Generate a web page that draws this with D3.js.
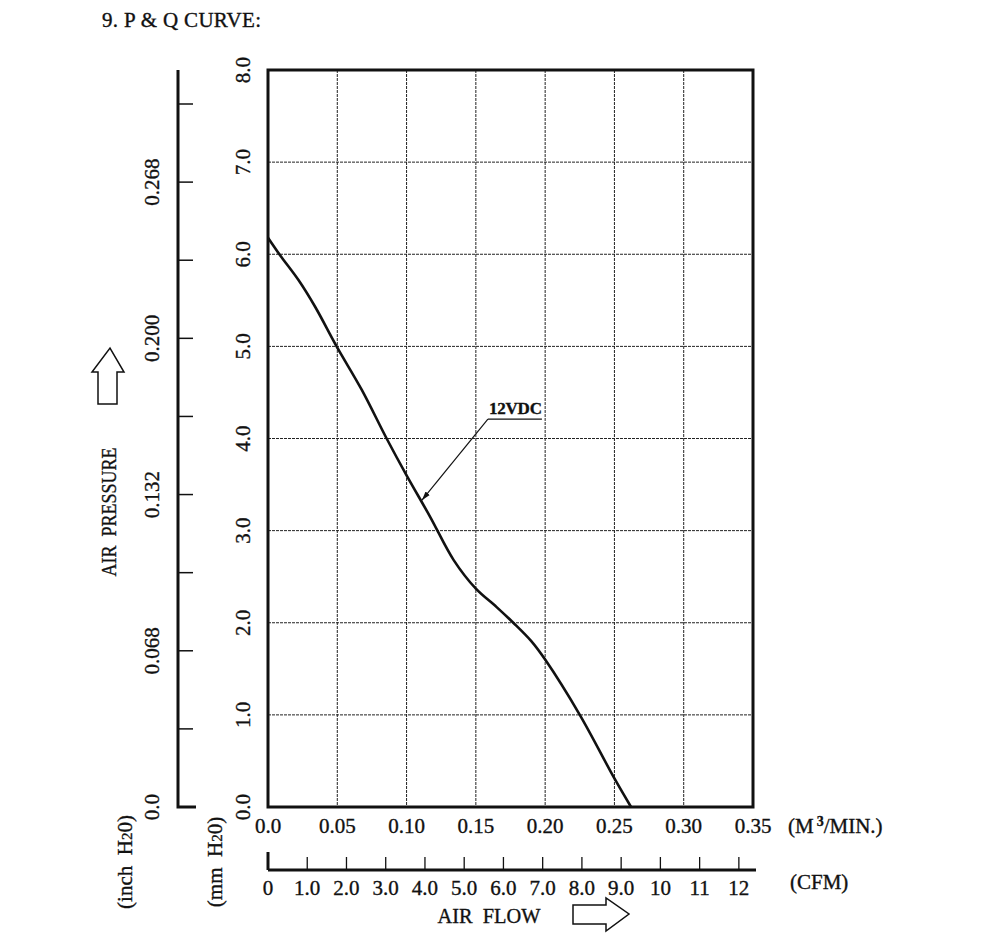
<!DOCTYPE html>
<html><head>
<meta charset="utf-8">
<script src="https://d3js.org/d3.v7.min.js"></script>
<style>
  body { margin: 0; background: #fff; }
  svg text { font-family: "Liberation Serif", "DejaVu Serif", serif; fill: #111; stroke: #111; stroke-width: 0.35; white-space: pre; }
  .grid line { stroke: #222; stroke-width: 1; stroke-dasharray: 3,1; }
</style>
</head>
<body>
<svg id="chart" width="1000" height="941"></svg>
<script>

// ---- data ----
// air flow in M3/MIN, pressure in mm H2O
const flow     = [0, 0.0087, 0.022, 0.034, 0.0495, 0.0676, 0.0856, 0.100, 0.117, 0.134, 0.150, 0.165, 0.177, 0.190, 0.200, 0.225, 0.250, 0.262];
const pressure = [6.18, 5.99, 5.72, 5.43, 5.00, 4.53, 4.00, 3.60, 3.15, 2.68, 2.37, 2.17, 2.00, 1.80, 1.60, 1.00, 0.31, 0.0];

const flowTicks = [0.0, 0.05, 0.10, 0.15, 0.20, 0.25, 0.30, 0.35];
const flowLabels = ["0.0", "0.05", "0.10", "0.15", "0.20", "0.25", "0.30", "0.35"];
const mmTicks = [0, 1, 2, 3, 4, 5, 6, 7, 8];
const mmLabels = ["0.0", "1.0", "2.0", "3.0", "4.0", "5.0", "6.0", "7.0", "8.0"];
const cfmTicks = [0, 1, 2, 3, 4, 5, 6, 7, 8, 9, 10, 11, 12];
const cfmLabels = ["0", "1.0", "2.0", "3.0", "4.0", "5.0", "6.0", "7.0", "8.0", "9.0", "10", "11", "12"];
// inch H2O axis: evenly spaced ticks, only every other one labelled
const inchLabels = ["0.0", "", "0.068", "", "0.132", "", "0.200", "", "0.268", ""];

const curveLabel = "12VDC";
const labelAt = [0.1587, 4.21];   // where the label's underline starts
const arrowTip = [0.1111, 3.33];  // where the leader arrow touches the curve

const M3_PER_CFM = 0.0283168;

// ---- layout ----
const svg = d3.select("#chart");
const plot = {left: 268, right: 753, top: 70, bottom: 807};
const FS = 21;

const x = d3.scaleLinear().domain([0, 0.35]).range([plot.left, plot.right]);
const y = d3.scaleLinear().domain([0, 8]).range([plot.bottom, plot.top]);
const cfm = d3.scaleLinear().domain([0, 12]).range([x(0), x(12 * M3_PER_CFM)]);
const inch = d3.scaleLinear().domain([0, 9]).range([plot.bottom, 104]);

svg.append("marker").attr("id", "arrowhead")
  .attr("viewBox", "0 0 10 10").attr("refX", 10).attr("refY", 5)
  .attr("markerWidth", 9).attr("markerHeight", 9).attr("orient", "auto")
  .attr("markerUnits", "userSpaceOnUse")
  .append("path").attr("d", "M0,2 L10,5 L0,8 Z").attr("fill", "#111");

// title
svg.append("text").attr("x", 102).attr("y", 27).attr("font-size", FS)
  .attr("textLength", 159).text("9. P & Q CURVE:");

// gridlines
const grid = svg.append("g").attr("class", "grid");
grid.selectAll("line.v").data(flowTicks.slice(1, -1)).join("line")
  .attr("x1", d => x(d)).attr("x2", d => x(d))
  .attr("y1", plot.top).attr("y2", plot.bottom);
grid.selectAll("line.h").data(mmTicks.slice(1, -1)).join("line")
  .attr("x1", plot.left).attr("x2", plot.right)
  .attr("y1", d => y(d)).attr("y2", d => y(d));

// frame
svg.append("rect")
  .attr("x", plot.left).attr("y", plot.top)
  .attr("width", plot.right - plot.left).attr("height", plot.bottom - plot.top)
  .attr("fill", "none").attr("stroke", "#111").attr("stroke-width", 3);

// the curve
const pts = flow.map((f, i) => [f, pressure[i]]);
const line = d3.line().x(d => x(d[0])).y(d => y(d[1])).curve(d3.curveCatmullRom.alpha(0.5));
svg.append("path").datum(pts).attr("d", line)
  .attr("fill", "none").attr("stroke", "#111").attr("stroke-width", 2.6);

// label + leader
svg.append("text").attr("x", x(labelAt[0]) + 1).attr("y", y(labelAt[1]) - 5)
  .attr("font-size", 17).attr("font-weight", "bold").attr("textLength", 53).text(curveLabel);
svg.append("line")
  .attr("x1", x(labelAt[0])).attr("y1", y(labelAt[1]))
  .attr("x2", x(labelAt[0]) + 54).attr("y2", y(labelAt[1]))
  .attr("stroke", "#111").attr("stroke-width", 1.3);
svg.append("line")
  .attr("x1", x(labelAt[0])).attr("y1", y(labelAt[1]))
  .attr("x2", x(arrowTip[0])).attr("y2", y(arrowTip[1]))
  .attr("stroke", "#111").attr("stroke-width", 1.2).attr("marker-end", "url(#arrowhead)");

// mm H2O labels (rotated)
svg.selectAll("text.mm").data(mmTicks).join("text")
  .attr("font-size", FS).attr("text-anchor", "middle")
  .attr("transform", d => `translate(250,${y(d)}) rotate(-90)`)
  .text((d, i) => mmLabels[i]);

// M3/MIN labels
svg.selectAll("text.flow").data(flowTicks).join("text")
  .attr("font-size", FS).attr("text-anchor", "middle")
  .attr("x", d => x(d)).attr("y", 833)
  .text((d, i) => flowLabels[i]);
const unit1 = svg.append("text").attr("x", 788).attr("y", 833).attr("font-size", FS);
unit1.append("tspan").text("(M");
unit1.append("tspan").attr("dy", -7).attr("dx", 3).attr("font-size", 14).attr("font-weight", "bold").text("3");
unit1.append("tspan").attr("dy", 7).text("/MIN.)");

// inch H2O axis on the far left
const inchAxis = svg.append("g");
inchAxis.append("path")
  .attr("d", `M178,${plot.top} L178,${plot.bottom} L196,${plot.bottom}`)
  .attr("fill", "none").attr("stroke", "#111").attr("stroke-width", 3);
inchAxis.selectAll("line").data(d3.range(1, 10)).join("line")
  .attr("x1", 178).attr("x2", 193)
  .attr("y1", d => inch(d)).attr("y2", d => inch(d))
  .attr("stroke", "#111").attr("stroke-width", 1.5);
inchAxis.selectAll("text").data(d3.range(0, 10).filter(i => inchLabels[i])).join("text")
  .attr("font-size", FS).attr("text-anchor", "middle")
  .attr("transform", d => `translate(159,${inch(d)}) rotate(-90)`)
  .text(d => inchLabels[d]);

// CFM axis
const cfmAxis = svg.append("g");
cfmAxis.append("line").attr("x1", cfm(0)).attr("x2", 756).attr("y1", 870).attr("y2", 870)
  .attr("stroke", "#111").attr("stroke-width", 3);
cfmAxis.append("line").attr("x1", cfm(0)).attr("x2", cfm(0)).attr("y1", 852).attr("y2", 870)
  .attr("stroke", "#111").attr("stroke-width", 3);
cfmAxis.selectAll("line.t").data(cfmTicks.slice(1)).join("line")
  .attr("x1", d => cfm(d)).attr("x2", d => cfm(d)).attr("y1", 857).attr("y2", 870)
  .attr("stroke", "#111").attr("stroke-width", 1.3);
cfmAxis.selectAll("text").data(cfmTicks).join("text")
  .attr("font-size", FS).attr("text-anchor", "middle")
  .attr("x", d => cfm(d)).attr("y", 895)
  .text((d, i) => cfmLabels[i]);
svg.append("text").attr("x", 790).attr("y", 889).attr("font-size", FS).text("(CFM)");

// axis titles
svg.append("text").attr("font-size", FS).attr("text-anchor", "middle")
  .attr("textLength", 129).attr("lengthAdjust", "spacingAndGlyphs")
  .attr("transform", "translate(116,512) rotate(-90)").text("AIR  PRESSURE");
function waterUnit(cx, txt) {
  const t = svg.append("text").attr("font-size", FS).attr("text-anchor", "middle")
    .attr("transform", `translate(${cx},862) rotate(-90)`);
  t.append("tspan").text(txt + "  H");
  t.append("tspan").attr("font-size", 15).text("2");
  t.append("tspan").text("0)");
}
waterUnit(132, "(inch");
waterUnit(222, "(mm");
svg.append("text").attr("x", 489).attr("y", 923).attr("font-size", FS)
  .attr("text-anchor", "middle").attr("textLength", 103).attr("lengthAdjust", "spacingAndGlyphs")
  .text("AIR  FLOW");

// hollow arrows
svg.append("path")
  .attr("d", "M98,404 L117,404 L117,372 L124,372 L110,348 L92,372 L98,372 Z")
  .attr("fill", "#fff").attr("stroke", "#111").attr("stroke-width", 1.5);
svg.append("path")
  .attr("d", "M573,905 L606,905 L606,898 L629,914 L606,931 L606,924 L573,924 Z")
  .attr("fill", "#fff").attr("stroke", "#111").attr("stroke-width", 1.5);

</script>
</body>
</html>
